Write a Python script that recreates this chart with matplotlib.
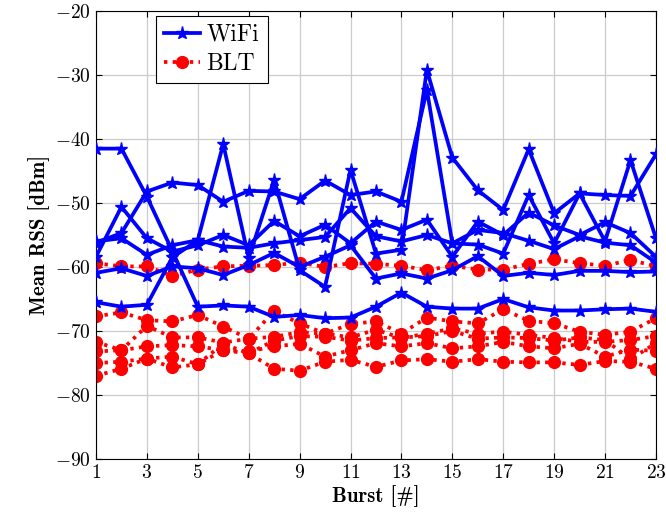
import matplotlib
matplotlib.use("Agg")
import matplotlib.pyplot as plt

plt.rcParams["font.family"] = "cmr10"
plt.rcParams["mathtext.fontset"] = "cm"
plt.rcParams["axes.formatter.use_mathtext"] = True

bursts = list(range(1, 24))

# mean RSS per burst, one list per WiFi link
wifi = [
    [-41.5, -41.5, -49.0, -57.5, -66.2, -66.0, -66.2, -67.8, -67.5, -68.0, -67.9, -66.2,
     -64.0, -66.2, -66.5, -66.5, -65.0, -66.3, -66.8, -66.8, -66.6, -66.5, -67.0],
    [-65.5, -66.2, -65.9, -58.5, -55.8, -40.8, -58.6, -46.4, -60.5, -63.1, -44.8, -57.9,
     -57.3, -29.2, -42.9, -48.0, -51.1, -41.6, -51.6, -48.5, -48.75, -48.9, -42.4],
    [-56.2, -54.7, -48.2, -46.8, -47.2, -49.8, -48.1, -48.2, -49.4, -46.5, -48.75, -48.2,
     -49.8, -32.3, -56.3, -56.5, -57.9, -48.75, -56.3, -48.5, -56.0, -43.3, -55.5],
    [-58.4, -50.6, -55.5, -57.6, -56.6, -55.0, -56.6, -52.8, -55.2, -53.4, -56.3, -52.9,
     -54.2, -52.6, -58.4, -52.9, -55.0, -51.5, -53.5, -55.0, -53.0, -54.7, -58.4],
    [-56.0, -55.5, -58.1, -56.6, -55.8, -56.8, -57.0, -56.3, -55.8, -55.3, -50.8, -55.2,
     -56.0, -55.0, -56.3, -54.2, -54.7, -55.9, -57.2, -55.2, -56.2, -56.6, -59.3],
    [-60.9, -60.2, -61.4, -59.9, -60.2, -61.25, -59.7, -57.8, -60.0, -58.4, -56.6, -61.8,
     -61.0, -61.8, -60.5, -58.3, -61.4, -60.9, -61.25, -60.6, -60.6, -60.8, -60.7],
]

# mean RSS per burst, one list per BLT link
blt = [
    [-59.4, -59.9, -59.9, -61.4, -60.4, -59.9, -59.8, -59.7, -59.3, -60.0, -59.4, -59.5,
     -59.8, -60.5, -59.8, -60.4, -60.4, -59.5, -58.8, -59.4, -59.8, -58.9, -59.9],
    [-67.7, -67.1, -68.3, -68.5, -67.5, -69.3, -71.2, -66.9, -68.8, -70.4, -68.9, -68.5,
     -70.4, -67.9, -68.5, -68.8, -66.6, -68.4, -68.8, -70.1, -70.6, -70.1, -68.0],
    [-71.7, -73.0, -69.2, -71.0, -71.0, -71.8, -71.2, -70.9, -70.2, -70.4, -71.0, -69.8,
     -71.1, -70.4, -69.6, -70.4, -70.1, -70.6, -71.1, -71.7, -71.7, -71.4, -70.8],
    [-73.2, -73.0, -72.4, -72.2, -72.4, -73.0, -73.2, -72.4, -72.0, -74.0, -73.0, -71.9,
     -72.4, -71.9, -72.7, -72.4, -71.7, -72.4, -72.7, -72.0, -74.0, -72.9, -73.1],
    [-75.0, -74.8, -74.3, -74.0, -75.2, -72.0, -73.5, -71.5, -70.8, -70.9, -71.5, -71.1,
     -71.0, -70.8, -70.0, -71.2, -71.0, -71.1, -71.5, -71.0, -71.4, -74.4, -71.9],
    [-77.0, -75.9, -74.3, -75.7, -75.2, -73.0, -73.5, -75.9, -76.2, -74.8, -74.5, -75.6,
     -74.6, -74.4, -74.8, -74.4, -74.8, -74.9, -74.9, -75.3, -74.7, -74.8, -75.9],
]

fig = plt.figure(figsize=(6.66, 5.2), dpi=100)
ax = fig.add_axes([0.1441, 0.1173, 0.8408, 0.8615])

for i, ys in enumerate(wifi):
    ax.plot(bursts, ys, color="blue", lw=2.7, marker="*", ms=9.5,
            label="WiFi" if i == 0 else None, zorder=3)
for i, ys in enumerate(blt):
    ax.plot(bursts, ys, color="red", lw=2.7, ls=(0, (0.9, 1.4)), marker="o", ms=8.5,
            label="BLT" if i == 0 else None, zorder=2)

ax.set_xlim(1, 23)
ax.set_ylim(-90, -20)
ax.set_xticks(range(1, 24, 2))
ax.set_yticks(range(-90, -19, 10))
ax.grid(True, color="#cccccc", lw=0.9)
ax.set_axisbelow(True)
ax.tick_params(direction="in", top=True, right=True, labelsize=14, length=4)

ax.set_xlabel("Burst [#]", fontsize=15, fontfamily="cmb10", labelpad=2)
ax.set_ylabel("Mean RSS [dBm]", fontsize=15, fontfamily="cmb10", labelpad=4)

leg = ax.legend(loc="upper left", bbox_to_anchor=(0.107, 0.99), borderaxespad=0,
                fancybox=False, edgecolor="black", framealpha=1, fontsize=17,
                handlelength=1.5, borderpad=0.35, labelspacing=0.3, handletextpad=0.3)
leg.get_frame().set_linewidth(0.8)

fig.savefig("out.png", dpi=100)
